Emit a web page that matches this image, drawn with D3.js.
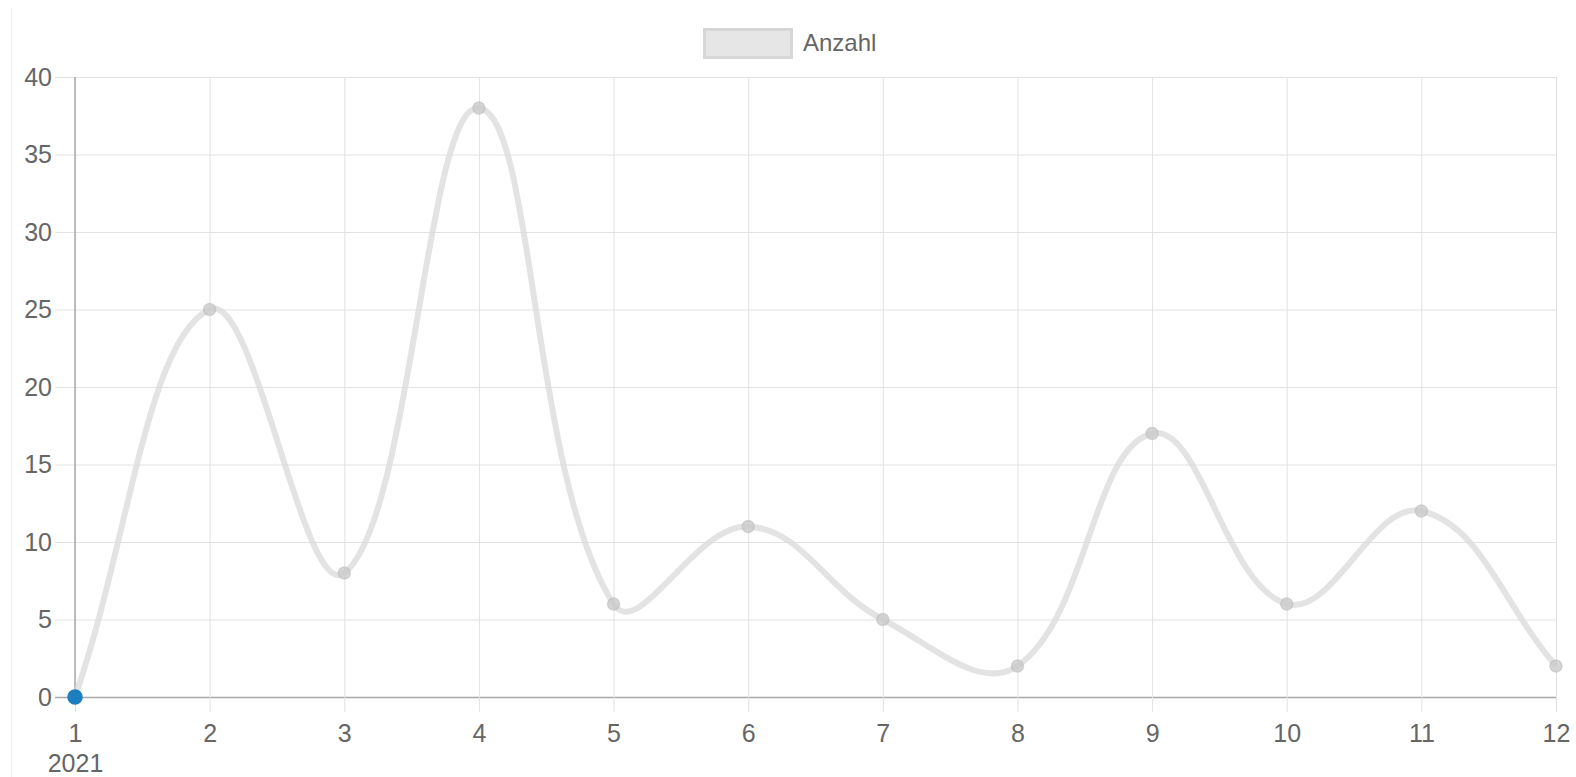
<!DOCTYPE html>
<html>
<head>
<meta charset="utf-8">
<script src="https://cdn.jsdelivr.net/npm/d3@7"></script>
<style>
	body { margin: 0; background: #fff; }
	svg { display: block; font-family: "Liberation Sans", Arial, Helvetica, sans-serif; }
	.tick text { fill: #666; font-size: 25px; }
</style>
</head>
<body>
<svg width="1576" height="777"></svg>
<script>
const months = ["1", "2", "3", "4", "5", "6", "7", "8", "9", "10", "11", "12"];
const values = [0, 25, 8, 38, 6, 11, 5, 2, 17, 6, 12, 2];
const yTicks = [0, 5, 10, 15, 20, 25, 30, 35, 40];
const seriesName = "Anzahl";
const yearLabel = "2021";

const svg = d3.select("svg");
const width = 1576, height = 777;
const plotLeft = 75, plotRight = 1556, plotTop = 77, plotBottom = 697;

const xScale = d3.scalePoint()
				 .domain(months)
				 .range([plotLeft, plotRight]);
const yScale = d3.scaleLinear()
				 .domain([0, 40])
				 .range([plotBottom, plotTop]);

// faint container edge
svg.append("line")
   .attr("x1", 11.5).attr("x2", 11.5)
   .attr("y1", 8).attr("y2", height)
   .attr("stroke", "#f0f0f0")
   .attr("stroke-width", 1);

// y grid + labels
const yg = svg.append("g")
			  .attr("transform", `translate(55, 0)`)
			  .call(d3.axisLeft(yScale)
			  		  .tickValues(yTicks)
			  		  .tickSizeInner(-(plotRight - 55))
			  		  .tickSizeOuter(0)
			  		  .tickPadding(3));
yg.select(".domain").remove();
yg.selectAll(".tick line")
  .attr("stroke", d => d === 0 ? "#a8a8a8" : "#e2e2e2")
  .attr("stroke-width", d => d === 0 ? 1.5 : 1);

// x grid + labels
const xg = svg.append("g")
			  .attr("transform", `translate(0, 712)`)
			  .call(d3.axisBottom(xScale)
			  		  .tickSizeInner(-(712 - plotTop))
			  		  .tickSizeOuter(0)
			  		  .tickPadding(12));
xg.select(".domain").remove();
xg.selectAll(".tick line").attr("stroke", "#e2e2e2");

// left border axis line
svg.append("line")
   .attr("x1", plotLeft).attr("x2", plotLeft)
   .attr("y1", plotTop).attr("y2", plotBottom)
   .attr("stroke", "#a8a8a8")
   .attr("stroke-width", 1.5);

xg.select(".tick text")
  .clone()
  .text(yearLabel)
  .attr("dy", "1.92em");

// chart.js style bezier spline (tension 0.4, capped to chart area)
function splinePath(pts, t) {
	const clampX = v => Math.max(plotLeft, Math.min(plotRight, v));
	const clampY = v => Math.max(plotTop, Math.min(plotBottom, v));
	const ctrl = pts.map((cur, i) => {
		const prev = pts[i - 1] || cur, next = pts[i + 1] || cur;
		const d01 = Math.hypot(cur[0] - prev[0], cur[1] - prev[1]);
		const d12 = Math.hypot(next[0] - cur[0], next[1] - cur[1]);
		let s01 = d01 / (d01 + d12), s12 = d12 / (d01 + d12);
		if (isNaN(s01)) s01 = 0;
		if (isNaN(s12)) s12 = 0;
		const fa = t * s01, fb = t * s12;
		return {
			inX: clampX(cur[0] - fa * (next[0] - prev[0])),
			inY: clampY(cur[1] - fa * (next[1] - prev[1])),
			outX: clampX(cur[0] + fb * (next[0] - prev[0])),
			outY: clampY(cur[1] + fb * (next[1] - prev[1]))
		};
	});
	const p = d3.path();
	p.moveTo(pts[0][0], pts[0][1]);
	for (let i = 1; i < pts.length; i++) {
		p.bezierCurveTo(ctrl[i - 1].outX, ctrl[i - 1].outY, ctrl[i].inX, ctrl[i].inY, pts[i][0], pts[i][1]);
	}
	return p.toString();
}

const points = months.map((m, i) => [xScale(m), yScale(values[i])]);

svg.append("path")
   .attr("d", splinePath(points, 0.4))
   .attr("fill", "none")
   .attr("stroke", "rgba(220,220,220,0.8)")
   .attr("stroke-width", 6);

svg.selectAll("circle.pt")
   .data(months)
   .enter()
   .append("circle")
   .attr("class", "pt")
   .attr("cx", d => xScale(d))
   .attr("cy", (d, i) => yScale(values[i]))
   .attr("r", (d, i) => i === 0 ? 7 : 6)
   .attr("fill", (d, i) => i === 0 ? "#1c7fc0" : "rgba(200,200,200,0.75)")
   .attr("stroke", (d, i) => i === 0 ? "#1c7fc0" : "rgba(190,190,190,0.6)")
   .attr("stroke-width", 1.5);

// legend
const legend = svg.append("g");
legend.append("rect")
	  .attr("x", 704.5).attr("y", 29.5)
	  .attr("width", 87).attr("height", 28)
	  .attr("fill", "#e6e6e6")
	  .attr("stroke", "#d6d6d6")
	  .attr("stroke-width", 3);
legend.append("text")
	  .attr("x", 803).attr("y", 43)
	  .attr("dy", "0.35em")
	  .attr("fill", "#666")
	  .style("font-size", "24px")
	  .text(seriesName);
</script>
</body>
</html>
